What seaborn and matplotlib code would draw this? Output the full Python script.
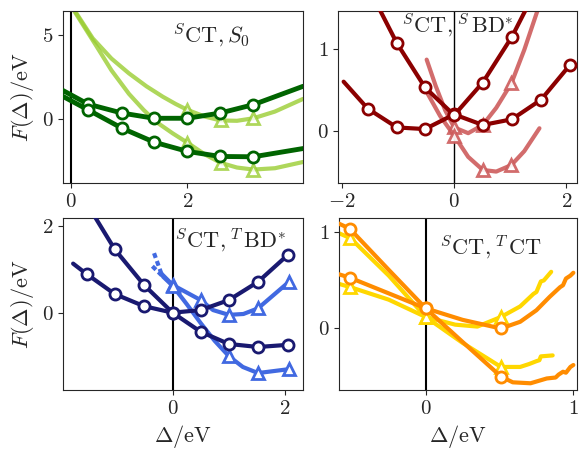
import matplotlib
matplotlib.use("Agg")
import matplotlib.pyplot as plt
import seaborn as sns
from matplotlib.ticker import MultipleLocator

# Datos
# Panel 1: sCT, S0
s0_osc_a_x = [-0.13, 0.3, 0.88, 1.43, 2.0, 2.56, 3.13, 3.98]
s0_osc_a_y = [1.7, 0.89, 0.36, 0.05, 0.05, 0.36, 0.86, 1.95]
s0_osc_b_x = [-0.13, 0.3, 0.88, 1.43, 2.0, 2.56, 3.13, 3.98]
s0_osc_b_y = [1.35, 0.55, -0.54, -1.37, -1.92, -2.22, -2.24, -1.75]
s0_cla_a_x = [0.08, 0.38, 0.7, 1.0, 1.3, 1.58, 1.8, 2.0, 2.3, 2.57, 2.85, 3.13, 3.5, 3.98]
s0_cla_a_y = [6.4, 4.8, 3.6, 2.72, 1.95, 1.33, 0.9, 0.55, 0.15, -0.08, -0.1, 0.05, 0.45, 1.2]
s0_cla_b_x = [0.05, 0.25, 0.45, 0.7, 1.0, 1.25, 1.46, 1.75, 2.0, 2.3, 2.57, 2.85, 3.13, 3.5, 3.98]
s0_cla_b_y = [6.5, 5.4, 4.3, 2.9, 1.5, 0.55, -0.15, -0.85, -1.4, -2.1, -2.6, -2.88, -3.0, -2.92, -2.55]

# Panel 2: sCT, sBD*
sbd_osc_a_x = [-1.97, -1.54, -1.02, -0.52, 0.0, 0.51, 1.03, 1.55, 2.07]
sbd_osc_a_y = [0.6, 0.27, 0.04, 0.02, 0.2, 0.07, 0.14, 0.38, 0.81]
sbd_osc_b_x = [-1.4, -1.02, -0.52, 0.0, 0.51, 1.03, 1.35]
sbd_osc_b_y = [1.58, 1.07, 0.53, 0.19, 0.59, 1.15, 1.58]
sbd_cla_a_x = [-0.49, -0.33, -0.16, 0.0, 0.25, 0.51, 0.75, 1.02, 1.25, 1.5]
sbd_cla_a_y = [0.87, 0.55, 0.25, 0.04, -0.03, 0.07, 0.28, 0.58, 0.99, 1.5]
sbd_cla_b_x = [-0.47, -0.25, 0.0, 0.25, 0.51, 0.75, 1.02, 1.25, 1.52]
sbd_cla_b_y = [0.45, 0.18, -0.06, -0.32, -0.48, -0.5, -0.42, -0.25, 0.03]

# Panel 3: sCT, TBD*
tbd_osc_a_x = [-1.45, -1.03, -0.51, 0.0, 0.5, 1.0, 1.52, 2.05]
tbd_osc_a_y = [2.35, 1.46, 0.64, 0.0, -0.44, -0.72, -0.79, -0.74]
tbd_osc_b_x = [-1.77, -1.53, -1.03, -0.51, 0.0, 0.5, 1.0, 1.52, 2.05]
tbd_osc_b_y = [1.13, 0.89, 0.43, 0.15, 0.0, 0.06, 0.29, 0.71, 1.33]
tbd_cla_a_x = [-0.2, 0.0, 0.5, 0.72, 1.0, 1.26, 1.52, 2.07]
tbd_cla_a_y = [0.9, 0.64, 0.29, 0.06, -0.05, -0.03, 0.1, 0.71]
tbd_cla_a_ini_x = [-0.33, -0.2]
tbd_cla_a_ini_y = [1.37, 0.9]
tbd_cla_b_x = [-0.17, 0.0, 0.25, 0.5, 0.75, 1.0, 1.25, 1.52, 2.07]
tbd_cla_b_y = [0.83, 0.62, 0.2, -0.24, -0.65, -1.0, -1.25, -1.39, -1.3]
tbd_cla_b_ini_x = [-0.36, -0.17]
tbd_cla_b_ini_y = [1.07, 0.83]

# Panel 4: sCT, TCT
tct_osc_a_x = [-0.6, -0.515, -0.25, 0.0, 0.25, 0.51, 0.59, 0.71, 0.82, 0.88, 0.9, 0.93, 0.95, 0.98, 1.0]
tct_osc_a_y = [1.1, 1.04, 0.61, 0.21, -0.14, -0.5, -0.56, -0.57, -0.52, -0.51, -0.48, -0.45, -0.46, -0.4, -0.38]
tct_osc_b_x = [-0.6, -0.515, 0.0, 0.25, 0.51, 0.64, 0.75, 0.84, 0.91, 0.93, 0.95, 0.98, 1.0]
tct_osc_b_y = [0.57, 0.53, 0.21, 0.09, 0.0, 0.07, 0.19, 0.33, 0.43, 0.45, 0.52, 0.55, 0.58]
tct_cla_a_x = [-0.6, -0.51, -0.25, 0.0, 0.25, 0.51, 0.64, 0.7, 0.75, 0.77, 0.78, 0.86]
tct_cla_a_y = [1.0, 0.94, 0.55, 0.12, -0.15, -0.4, -0.4, -0.37, -0.34, -0.33, -0.29, -0.28]
tct_cla_b_x = [-0.6, -0.51, -0.25, 0.0, 0.2, 0.35, 0.51, 0.64, 0.73, 0.75, 0.78, 0.8, 0.85]
tct_cla_b_y = [0.47, 0.43, 0.3, 0.12, 0.04, 0.02, 0.12, 0.23, 0.36, 0.38, 0.49, 0.5, 0.59]

etiquetas = [r'$^{S}\mathrm{CT}, S_0$',
             r'$^{S}\mathrm{CT},^{S}\,\mathrm{BD}^{*}$',
             r'$^{S}\mathrm{CT},^{T}\,\mathrm{BD}^{*}$',
             r'$^{S}\mathrm{CT},^{T}\,\mathrm{CT}$']

sns.set_style("ticks")
plt.rcParams['font.family'] = 'serif'
plt.rcParams['font.serif'] = ['cmr10', 'DejaVu Serif']
plt.rcParams['mathtext.fontset'] = 'cm'
plt.rcParams['axes.formatter.use_mathtext'] = True
plt.rcParams['axes.unicode_minus'] = True


# Funcion para dibujar una curva con marcadores opcionales
def curva(ax, x, y, color, marca=None, cada=None, lw=3.0, alpha=1.0, ls='-', z=2):
    kw = dict(color=color, lw=lw, alpha=alpha, linestyle=ls, zorder=z,
              sort=False, estimator=None, ax=ax)
    if marca is not None:
        kw.update(marker=marca, markevery=cada, markersize=8,
                  markerfacecolor='white', markeredgecolor=color,
                  markeredgewidth=2)
    sns.lineplot(x=x, y=y, **kw)


fig = plt.figure(figsize=(5.79, 4.49), dpi=100)
ax1 = fig.add_axes([0.1088, 0.5924, 0.4145, 0.3831])
ax2 = fig.add_axes([0.5838, 0.5924, 0.4128, 0.3831])
ax3 = fig.add_axes([0.1088, 0.1314, 0.4145, 0.3831])
ax4 = fig.add_axes([0.5855, 0.1314, 0.4111, 0.3831])

# Panel 1
verde_claro = 'yellowgreen'
verde = 'darkgreen'
curva(ax1, s0_cla_a_x, s0_cla_a_y, verde_claro, '^', [7, 9, 11], alpha=0.8)
curva(ax1, s0_cla_b_x, s0_cla_b_y, verde_claro, '^', [8, 10, 12], alpha=0.8)
curva(ax1, s0_osc_a_x, s0_osc_a_y, verde, 'o', [1, 2, 3, 4, 5, 6], lw=3.5, z=3)
curva(ax1, s0_osc_b_x, s0_osc_b_y, verde, 'o', [1, 2, 3, 4, 5, 6], lw=3.5, z=3)
ax1.set_xlim(-0.13, 3.98)
ax1.set_ylim(-3.8, 6.43)
ax1.xaxis.set_major_locator(MultipleLocator(2))
ax1.yaxis.set_major_locator(MultipleLocator(5))

# Panel 2
rojo_claro = 'indianred'
rojo = 'darkred'
curva(ax2, sbd_cla_a_x, sbd_cla_a_y, rojo_claro, '^', [3, 5, 7], alpha=0.9)
curva(ax2, sbd_cla_b_x, sbd_cla_b_y, rojo_claro, '^', [2, 4, 6], alpha=0.9)
curva(ax2, sbd_osc_a_x, sbd_osc_a_y, rojo, 'o', [1, 2, 3, 4, 5, 6, 7, 8], z=3)
curva(ax2, sbd_osc_b_x, sbd_osc_b_y, rojo, 'o', [1, 2, 3, 4, 5], z=3)
ax2.set_xlim(-2.07, 2.19)
ax2.set_ylim(-0.64, 1.465)
ax2.xaxis.set_major_locator(MultipleLocator(2))
ax2.yaxis.set_major_locator(MultipleLocator(1))

# Panel 3
azul_claro = 'royalblue'
azul = 'midnightblue'
curva(ax3, tbd_cla_a_ini_x, tbd_cla_a_ini_y, azul_claro, ls=(0, (1.2, 0.8)))
curva(ax3, tbd_cla_b_ini_x, tbd_cla_b_ini_y, azul_claro, ls=(0, (1.2, 0.8)))
curva(ax3, tbd_cla_a_x, tbd_cla_a_y, azul_claro, '^', [1, 2, 4, 6, 7])
curva(ax3, tbd_cla_b_x, tbd_cla_b_y, azul_claro, '^', [1, 5, 7, 8])
curva(ax3, tbd_osc_a_x, tbd_osc_a_y, azul, 'o', [1, 2, 3, 4, 5, 6, 7], z=3)
curva(ax3, tbd_osc_b_x, tbd_osc_b_y, azul, 'o', [1, 2, 3, 4, 5, 6, 7, 8], z=3)
ax3.set_xlim(-1.95, 2.32)
ax3.set_ylim(-1.78, 2.18)
ax3.xaxis.set_major_locator(MultipleLocator(2))
ax3.yaxis.set_major_locator(MultipleLocator(2))

# Panel 4
amarillo = 'gold'
naranja = 'darkorange'
curva(ax4, tct_cla_a_x, tct_cla_a_y, amarillo, '^', [1, 3, 5])
curva(ax4, tct_cla_b_x, tct_cla_b_y, amarillo, '^', [1, 3, 6])
curva(ax4, tct_osc_a_x, tct_osc_a_y, naranja, 'o', [1, 3, 5], z=3)
curva(ax4, tct_osc_b_x, tct_osc_b_y, naranja, 'o', [1, 2, 4], z=3)
ax4.set_xlim(-0.587, 1.025)
ax4.set_ylim(-0.64, 1.15)
ax4.xaxis.set_major_locator(MultipleLocator(1))
ax4.yaxis.set_major_locator(MultipleLocator(1))

posiciones = [(0.62, 0.86), (0.5, 0.92), (0.70, 0.87), (0.64, 0.83)]
for ax, texto, pos, lwv in zip([ax1, ax2, ax3, ax4], etiquetas, posiciones, [1.5, 1.0, 1.5, 1.5]):
    ax.axvline(0, color='black', lw=lwv, zorder=1)
    ax.text(pos[0], pos[1], texto, transform=ax.transAxes, ha='center', va='center',
            fontsize=16, zorder=5)
    ax.tick_params(labelsize=15, length=3.5, width=0.8)
    ax.set_xlabel('')
    ax.set_ylabel('')
    for s in ax.spines.values():
        s.set_linewidth(0.8)

ax1.set_ylabel(r'$F(\Delta)/\mathrm{eV}$', fontsize=16)
ax3.set_ylabel(r'$F(\Delta)/\mathrm{eV}$', fontsize=16)
ax3.set_xlabel(r'$\Delta/\mathrm{eV}$', fontsize=16)
ax4.set_xlabel(r'$\Delta/\mathrm{eV}$', fontsize=16)

fig.savefig('out.png', dpi=100)
plt.close(fig)
